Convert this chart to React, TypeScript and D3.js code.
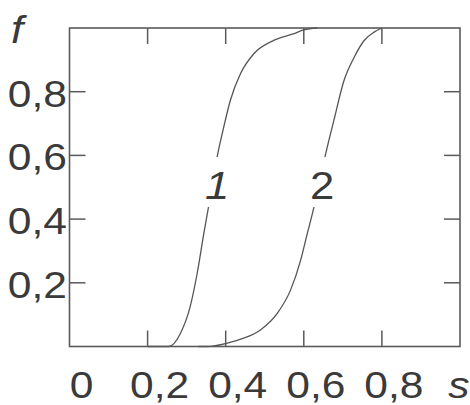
import React from 'react';
import * as d3 from 'd3';

// Curve 1 and curve 2: f(s)
const curve1S = [0.2, 0.23, 0.254, 0.284, 0.309, 0.327, 0.344, 0.356, 0.378, 0.395, 0.412, 0.438, 0.472, 0.523, 0.575, 0.6, 0.635];
const curve1F = [0, 0, 0.0, 0.041, 0.125, 0.23, 0.355, 0.438, 0.595, 0.689, 0.773, 0.857, 0.919, 0.961, 0.982, 0.994, 1.0];

const curve2S = [0.33, 0.352, 0.404, 0.446, 0.489, 0.532, 0.566, 0.592, 0.609, 0.622, 0.639, 0.656, 0.677, 0.703, 0.729, 0.754, 0.78, 0.8];
const curve2F = [0, 0.0, 0.0104, 0.026, 0.052, 0.104, 0.177, 0.271, 0.355, 0.417, 0.51, 0.605, 0.71, 0.835, 0.908, 0.96, 0.987, 1.0];

const xTicks = [0.2, 0.4, 0.6, 0.8];
const yTicks = [0.2, 0.4, 0.6, 0.8];
const xTickLabels = ['0', '0,2', '0,4', '0,6', '0,8'];
const xLabelValues = [0, 0.2, 0.4, 0.6, 0.8];
const yTickLabels = ['0,2', '0,4', '0,6', '0,8'];

// curve numbers, placed at (s, f) of their baseline centre
const curveLabels = [
  { text: '1', s: 0.378, f: 0.463, italic: true },
  { text: '2', s: 0.647, f: 0.463, italic: false },
];

const W = 470;
const H = 405;
const FONT = "'Liberation Sans', Arial, Helvetica, sans-serif";
const STRETCH = 1.15;

const App: React.FC = () => {
  const x = d3.scaleLinear().domain([0, 1]).range([69.5, 460]);
  const y = d3.scaleLinear().domain([0, 1]).range([346.5, 28]);

  const line = d3.line<[number, number]>()
    .x(d => x(d[0]))
    .y(d => y(d[1]))
    .curve(d3.curveMonotoneX);

  const path1 = line(curve1S.map((s, i) => [s, curve1F[i]]));
  const path2 = line(curve2S.map((s, i) => [s, curve2F[i]]));

  const tick = 16;
  const axisColor = '#5a5a5a';
  const textColor = '#3a3a3a';

  return (
    <svg width={W} height={H} style={{ position: 'absolute', left: 0, top: 0, background: '#fff' }}>
      {/* curves */}
      <path d={path1 || ''} fill="none" stroke="#555" strokeWidth={1.3} />
      <path d={path2 || ''} fill="none" stroke="#555" strokeWidth={1.3} />

      {/* frame */}
      <rect x={x(0)} y={y(1)} width={x(1) - x(0)} height={y(0) - y(1)}
        fill="none" stroke={axisColor} strokeWidth={1.6} />

      {/* inward ticks */}
      {xTicks.map(t => (
        <g key={'x' + t}>
          <line x1={x(t)} x2={x(t)} y1={y(0)} y2={y(0) - tick} stroke={axisColor} strokeWidth={1.5} />
          <line x1={x(t)} x2={x(t)} y1={y(1)} y2={y(1) + tick} stroke={axisColor} strokeWidth={1.5} />
        </g>
      ))}
      {yTicks.map(t => (
        <g key={'y' + t}>
          <line x1={x(0)} x2={x(0) + tick} y1={y(t)} y2={y(t)} stroke={axisColor} strokeWidth={1.5} />
          <line x1={x(1)} x2={x(1) - tick} y1={y(t)} y2={y(t)} stroke={axisColor} strokeWidth={1.5} />
        </g>
      ))}

      {/* x tick labels */}
      {xLabelValues.map((v, i) => (
        <text key={'xl' + i} transform={`translate(${x(v) + 12},${398}) scale(${STRETCH},1)`}
          textAnchor="middle" fontFamily={FONT} fontSize={37} fill={textColor}>
          {xTickLabels[i]}
        </text>
      ))}

      {/* y tick labels */}
      {yTicks.map((v, i) => (
        <text key={'yl' + i} transform={`translate(${67},${y(v) + 15}) scale(${STRETCH},1)`}
          textAnchor="end" fontFamily={FONT} fontSize={37} fill={textColor}>
          {yTickLabels[i]}
        </text>
      ))}

      {/* axis names */}
      <text transform={`translate(17,43) scale(${STRETCH},1)`} textAnchor="middle"
        fontFamily={FONT} fontSize={38} fontStyle="italic" fill={textColor}>f</text>
      <text transform={`translate(459,398) scale(${STRETCH},1)`} textAnchor="middle"
        fontFamily={FONT} fontSize={37} fontStyle="italic" fill={textColor}>s</text>

      {/* curve labels, set into a gap in the curve */}
      {curveLabels.map(c => (
        <g key={c.text} transform={`translate(${x(c.s)},${y(c.f)})`}>
          <rect x={-14} y={-42} width={28} height={50} fill="#fff" />
          <text transform={`scale(${STRETCH},1)`}
            textAnchor="middle" fontFamily={FONT} fontSize={38}
            fontStyle={c.italic ? 'italic' : 'normal'} fill={textColor}>
            {c.text}
          </text>
        </g>
      ))}
    </svg>
  );
};

export default App;
